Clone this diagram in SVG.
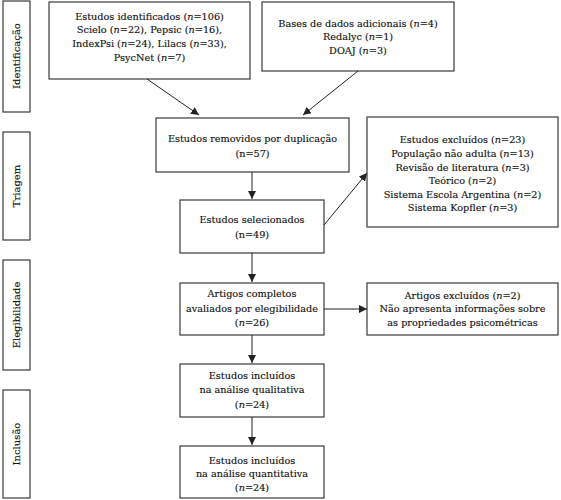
<svg xmlns="http://www.w3.org/2000/svg" width="561" height="500" viewBox="0 0 561 500">
<style>
.box{fill:#fff;stroke:#3a3a3a;stroke-width:1.2}
.t{font-family:"DejaVu Serif","Liberation Serif",serif;font-size:9.7px;fill:#111;stroke:#111;stroke-width:0.15;text-anchor:middle}
.s{font-family:"DejaVu Serif","Liberation Serif",serif;font-size:10px;fill:#111;stroke:#111;stroke-width:0.15;text-anchor:middle}
.c{stroke:#222;stroke-width:1;fill:none;marker-end:url(#ah)}
.i{font-style:italic}
</style>
<defs>
<marker id="ah" viewBox="0 0 10 10" refX="10" refY="5" markerWidth="8" markerHeight="8" markerUnits="userSpaceOnUse" orient="auto">
<path d="M0,0 L10,5 L0,10 z" fill="#222"/>
</marker>
</defs>
<rect width="561" height="500" fill="#fff"/>

<g id="stage-identificacao"><rect class="box" x="3" y="1" width="27" height="111"/><text class="s" transform="translate(20,56) rotate(-90)">Identificação</text></g>
<g id="stage-triagem"><rect class="box" x="3" y="132" width="27" height="108"/><text class="s" transform="translate(20,186) rotate(-90)">Triagem</text></g>
<g id="stage-elegibilidade"><rect class="box" x="3" y="260" width="27" height="110"/><text class="s" transform="translate(20,315) rotate(-90)">Elegibilidade</text></g>
<g id="stage-inclusao"><rect class="box" x="3" y="390" width="27" height="108"/><text class="s" transform="translate(20,444) rotate(-90)">Inclusão</text></g>

<g id="identificados"><rect class="box" x="49" y="2" width="201" height="77"/>
<text class="t" x="149.5" y="20">Estudos identificados (<tspan class="i">n</tspan>=106)</text>
<text class="t" x="149.5" y="33">Scielo (<tspan class="i">n</tspan>=22),  Pepsic (<tspan class="i">n</tspan>=16),</text>
<text class="t" x="149.5" y="47">IndexPsi (<tspan class="i">n</tspan>=24), Lilacs (<tspan class="i">n</tspan>=33),</text>
<text class="t" x="149.5" y="61">PsycNet (<tspan class="i">n</tspan>=7)</text></g>

<g id="adicionais"><rect class="box" x="262" y="2" width="192" height="69"/>
<text class="t" x="358" y="27">Bases de dados adicionais (<tspan class="i">n</tspan>=4)</text>
<text class="t" x="358" y="40">Redalyc (<tspan class="i">n</tspan>=1)</text>
<text class="t" x="358" y="54">DOAJ (<tspan class="i">n</tspan>=3)</text></g>

<g id="removidos"><rect class="box" x="156" y="118" width="193" height="54"/>
<text class="t" x="252.5" y="142">Estudos removidos por duplicação</text>
<text class="t" x="252.5" y="157">(n=57)</text></g>

<g id="selecionados"><rect class="box" x="180" y="200" width="144" height="53"/>
<text class="t" x="252" y="223">Estudos selecionados</text>
<text class="t" x="252" y="238">(n=49)</text></g>

<g id="excluidos"><rect class="box" x="367" y="117" width="191" height="110"/>
<text class="t" x="462.5" y="143">Estudos excluídos (<tspan class="i">n</tspan>=23)</text>
<text class="t" x="462.5" y="157">População não adulta (<tspan class="i">n</tspan>=13)</text>
<text class="t" x="462.5" y="171">Revisão de literatura (<tspan class="i">n</tspan>=3)</text>
<text class="t" x="462.5" y="184">Teórico (<tspan class="i">n</tspan>=2)</text>
<text class="t" x="462.5" y="198">Sistema Escola Argentina (<tspan class="i">n</tspan>=2)</text>
<text class="t" x="462.5" y="211">Sistema Kopfler (<tspan class="i">n</tspan>=3)</text></g>

<g id="completos"><rect class="box" x="180" y="283" width="144" height="52"/>
<text class="t" x="252" y="297">Artigos completos</text>
<text class="t" x="252" y="312">avaliados por elegibilidade</text>
<text class="t" x="252" y="326">(<tspan class="i">n</tspan>=26)</text></g>

<g id="artigos-excluidos"><rect class="box" x="367" y="283" width="191" height="52"/>
<text class="t" x="462.5" y="299">Artigos excluídos (<tspan class="i">n</tspan>=2)</text>
<text class="t" x="462.5" y="312">Não apresenta informações sobre</text>
<text class="t" x="462.5" y="326">as propriedades psicométricas</text></g>

<g id="qualitativa"><rect class="box" x="180" y="364" width="144" height="53"/>
<text class="t" x="252" y="379">Estudos incluídos</text>
<text class="t" x="252" y="393">na análise qualitativa</text>
<text class="t" x="252" y="408">(<tspan class="i">n</tspan>=24)</text></g>

<g id="quantitativa"><rect class="box" x="180" y="446" width="144" height="52"/>
<text class="t" x="252" y="464">Estudos incluídos</text>
<text class="t" x="252" y="477">na análise quantitativa</text>
<text class="t" x="252" y="491">(<tspan class="i">n</tspan>=24)</text></g>

<g id="connectors">
<line class="c" x1="147" y1="79" x2="199" y2="115"/>
<line class="c" x1="358" y1="71" x2="303" y2="115"/>
<line class="c" x1="252" y1="172" x2="252" y2="199"/>
<line class="c" x1="324" y1="225" x2="367" y2="173"/>
<line class="c" x1="252" y1="253" x2="252" y2="282"/>
<line class="c" x1="324" y1="309" x2="367" y2="309"/>
<line class="c" x1="252" y1="335" x2="252" y2="363"/>
<line class="c" x1="252" y1="417" x2="252" y2="445"/>
</g>
</svg>
